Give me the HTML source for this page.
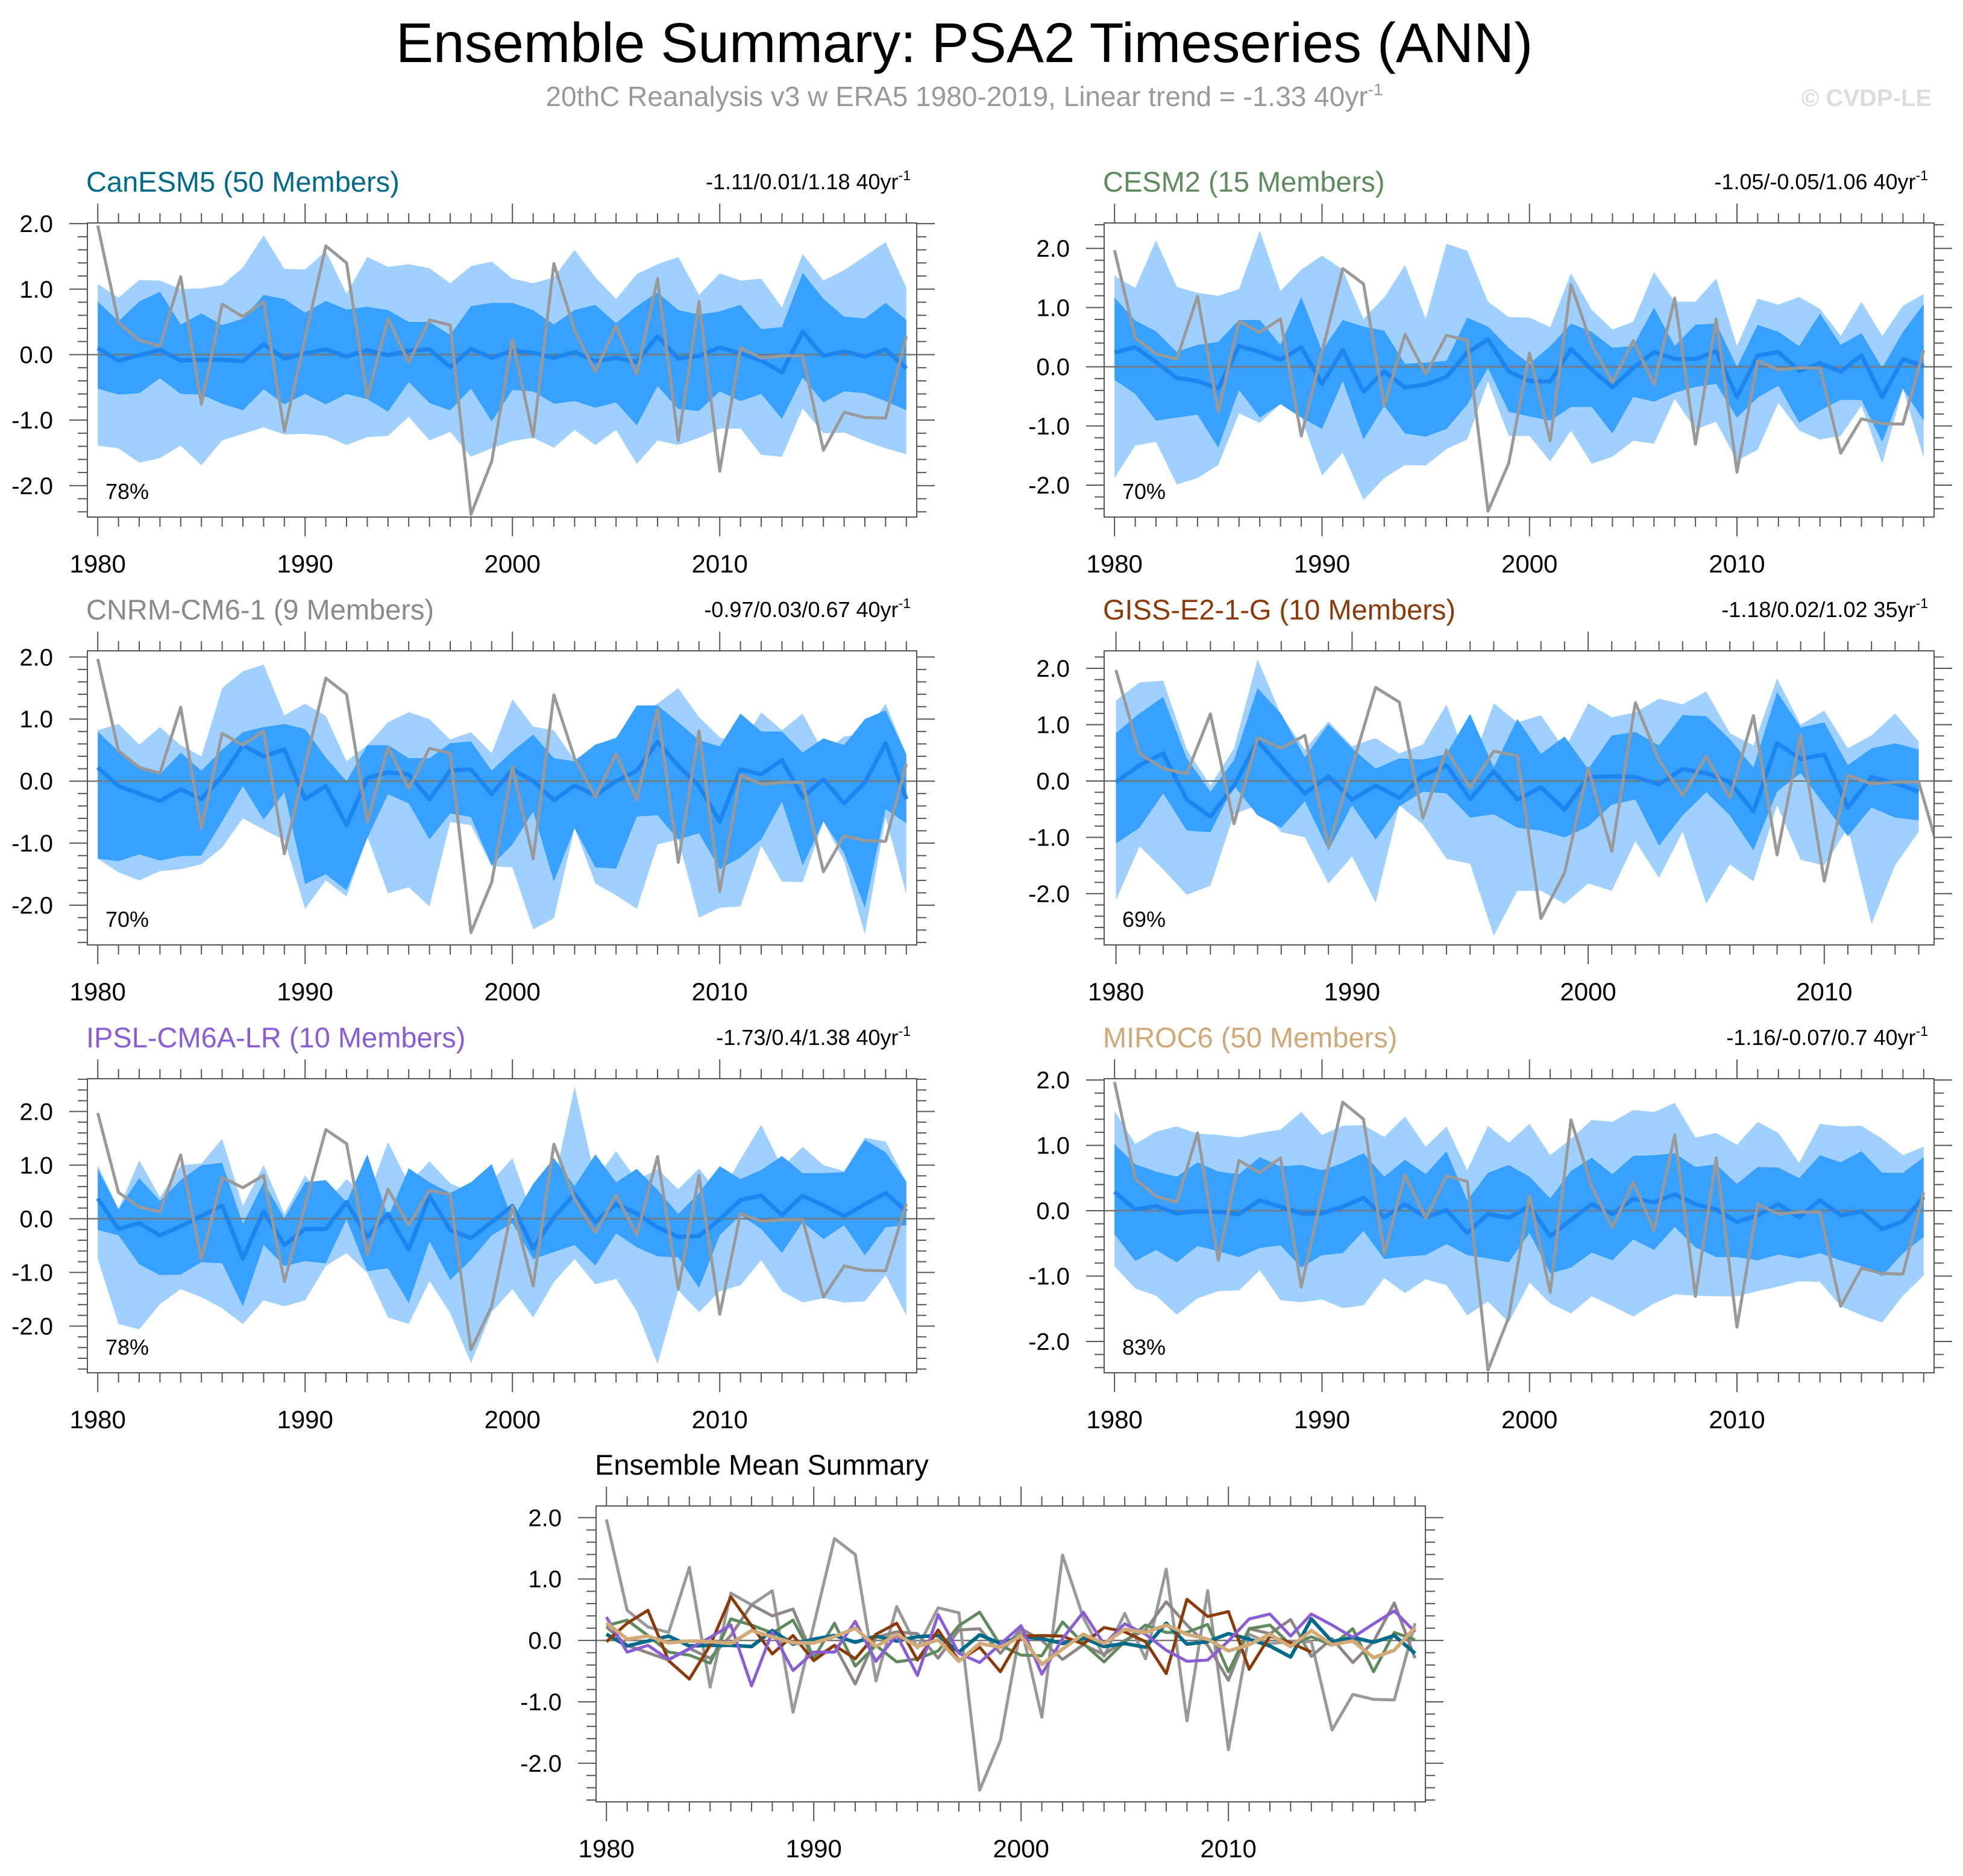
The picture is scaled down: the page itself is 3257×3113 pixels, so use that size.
<!DOCTYPE html>
<html><head><meta charset="utf-8"><title>Ensemble Summary: PSA2 Timeseries (ANN)</title>
<style>
html,body{margin:0;padding:0;background:#fff;}
svg{display:block;font-family:"Liberation Sans",Arial,sans-serif;}
</style></head>
<body>
<svg id="chart" xmlns="http://www.w3.org/2000/svg" width="3257" height="3113" viewBox="0 0 3257 3113">
<text x="1600" y="103" font-size="93" text-anchor="middle" fill="#000">Ensemble Summary: PSA2 Timeseries (ANN)</text>
<text x="1600" y="176" font-size="46" text-anchor="middle" fill="#999">20thC Reanalysis v3 w ERA5 1980-2019, Linear trend = -1.33 40yr<tspan font-size="28" dy="-18">-1</tspan></text>
<text x="3205" y="176" font-size="40" font-weight="bold" text-anchor="end" fill="#dcdcdc">© CVDP-LE</text>
</svg>
<script>
const years=[1980,1981,1982,1983,1984,1985,1986,1987,1988,1989,1990,1991,1992,1993,1994,1995,1996,1997,1998,1999,2000,2001,2002,2003,2004,2005,2006,2007,2008,2009,2010,2011,2012,2013,2014,2015,2016,2017,2018,2019];
const obs=[1.97,0.49,0.22,0.13,1.19,-0.76,0.77,0.58,0.81,-1.17,0.25,1.66,1.40,-0.66,0.55,-0.12,0.53,0.45,-2.44,-1.63,0.23,-1.25,1.39,0.37,-0.26,0.44,-0.30,1.16,-1.31,0.81,-1.78,0.10,-0.05,-0.02,-0.02,-1.46,-0.88,-0.96,-0.97,0.28];

const canMean=[0.10,-0.09,-0.01,0.07,-0.09,-0.08,-0.08,-0.10,0.16,-0.06,0.02,0.08,-0.03,0.07,-0.01,0.06,0.08,-0.19,0.09,-0.05,0.06,0.03,-0.05,0.04,-0.10,-0.05,-0.11,0.28,-0.06,-0.02,0.11,0.02,-0.09,-0.27,0.35,-0.02,0.05,-0.03,0.08,-0.21];
const canOutHi=[1.08,0.87,1.14,1.13,1.0,1.01,1.06,1.33,1.82,1.31,1.30,1.58,0.93,1.49,1.34,1.38,1.32,1.09,1.35,1.42,1.16,1.09,1.18,1.60,1.18,0.85,1.23,1.38,1.49,0.91,1.24,1.13,1.16,0.72,1.54,1.13,1.29,1.50,1.72,1.02];
const canInHi=[0.81,0.51,0.81,0.96,0.46,0.63,0.45,0.55,0.91,0.85,0.64,0.82,0.69,0.73,0.68,0.50,0.50,0.30,0.74,0.79,0.79,0.68,0.46,0.68,0.76,0.48,0.74,0.95,0.68,0.61,0.66,0.76,0.39,0.42,1.25,0.85,0.58,0.55,0.79,0.53];
const canInLo=[-0.52,-0.61,-0.59,-0.36,-0.60,-0.61,-0.75,-0.85,-0.53,-0.76,-0.60,-0.76,-0.60,-0.68,-0.87,-0.42,-0.74,-0.85,-0.52,-1.02,-0.54,-0.56,-0.75,-0.71,-0.81,-0.73,-1.08,-0.48,-0.83,-0.86,-0.56,-0.71,-0.60,-0.98,-0.35,-0.73,-0.56,-0.59,-0.71,-0.85];
const canOutLo=[-1.39,-1.43,-1.65,-1.58,-1.39,-1.69,-1.31,-1.21,-1.11,-1.22,-1.21,-1.24,-1.38,-1.26,-1.24,-0.95,-1.31,-1.18,-1.56,-1.43,-1.32,-1.27,-1.42,-1.15,-1.38,-1.15,-1.67,-1.31,-1.38,-1.27,-1.13,-1.13,-1.53,-1.56,-0.82,-1.20,-1.19,-1.32,-1.43,-1.52];

const cesmMean=[0.24,0.33,0.08,-0.19,-0.24,-0.37,0.35,0.25,0.12,0.33,-0.29,0.28,-0.42,-0.08,-0.35,-0.30,-0.17,0.24,0.46,-0.08,-0.24,-0.25,0.30,-0.05,-0.35,-0.02,0.25,0.13,0.13,0.26,-0.51,0.19,0.25,-0.07,0.06,-0.08,0.19,-0.51,0.13,0.01];
const cesmOutHi=[1.54,1.33,2.14,1.35,1.25,1.20,1.31,2.30,1.28,1.64,1.88,1.64,0.81,1.17,1.72,0.81,2.08,1.96,1.10,0.84,0.83,0.67,1.58,0.96,0.63,0.76,1.60,1.10,1.10,1.49,0.35,1.15,1.05,1.18,0.98,0.52,1.10,0.52,1.03,1.23];
const cesmInHi=[1.17,0.78,0.60,0.25,0.37,0.42,0.79,0.79,0.37,1.18,0.27,0.79,0.68,0.61,0.05,0.07,0.10,0.83,0.68,0.32,0.05,0.35,0.73,0.59,0.32,0.35,1.00,0.35,0.71,0.73,0.00,0.71,0.59,0.35,0.90,0.37,0.57,-0.02,0.59,1.06];
const cesmInLo=[-0.22,-0.46,-0.91,-0.86,-0.81,-1.37,-0.39,-0.86,-0.63,-0.86,-1.05,-0.24,-1.23,-0.66,-1.13,-1.18,-1.05,-0.64,-0.02,-0.76,-0.84,-0.91,-0.68,-0.68,-1.13,-0.51,-0.59,-0.44,-0.34,-0.29,-0.86,-0.52,-0.32,-0.95,-0.74,-0.56,-0.56,-1.27,-0.37,-0.91];
const cesmOutLo=[-1.88,-1.33,-1.27,-1.99,-1.88,-1.66,-0.79,-0.95,-0.63,-0.86,-1.84,-1.45,-2.25,-1.88,-1.66,-1.67,-1.39,-1.23,-0.25,-1.17,-1.17,-1.60,-1.08,-1.64,-1.52,-1.25,-1.30,-0.54,-1.06,-0.93,-1.59,-1.40,-0.61,-1.08,-1.23,-1.17,-0.66,-1.64,-0.37,-1.54];

const cnrmMean=[0.22,-0.08,-0.20,-0.32,-0.13,-0.29,0.08,0.58,0.40,0.51,-0.29,-0.08,-0.71,0.05,0.14,0.11,-0.29,0.17,0.19,-0.21,0.19,0.0,-0.31,-0.07,-0.23,0.0,0.17,0.63,0.25,-0.08,-0.65,0.19,0.11,0.34,-0.26,0.03,-0.36,-0.02,0.61,-0.29];
const cnrmOutHi=[0.82,0.92,0.59,0.87,0.58,0.40,1.50,1.77,1.88,1.06,1.25,1.05,0.32,0.58,0.95,1.11,1.0,0.67,0.79,0.45,1.32,0.88,0.82,0.34,0.58,0.71,1.06,1.25,1.50,1.03,0.71,0.56,1.11,0.82,1.09,0.46,0.72,0.77,1.25,0.43];
const cnrmInHi=[0.80,0.48,0.24,0.11,0.46,0.17,0.51,0.79,0.87,0.92,0.84,0.38,0.0,0.58,0.58,0.37,0.37,0.61,0.64,0.17,0.48,0.75,0.37,0.32,0.59,0.69,1.22,1.22,0.95,0.66,0.56,1.09,0.80,0.80,0.46,0.69,0.58,1.0,1.14,0.43];
const cnrmInLo=[-1.25,-1.29,-1.18,-1.28,-1.21,-1.20,-0.65,-0.08,-0.62,-0.18,-1.66,-1.50,-1.76,-0.92,-0.21,-0.36,-0.94,-0.52,-0.58,-1.36,-1.02,-0.49,-1.62,-0.76,-1.39,-1.41,-0.57,-0.55,-0.94,-0.84,-1.42,-1.23,-0.94,-0.33,-1.36,-0.65,-1.16,-2.04,-0.45,-0.68];
const cnrmOutLo=[-1.25,-1.47,-1.60,-1.45,-1.42,-1.34,-1.07,-0.60,-0.78,-0.95,-2.06,-1.60,-1.86,-0.89,-1.81,-1.71,-2.02,-0.66,-0.71,-1.37,-1.39,-2.39,-2.21,-0.75,-1.65,-1.84,-2.06,-1.02,-0.94,-2.20,-2.04,-2.02,-1.04,-1.62,-1.63,-0.65,-1.29,-2.47,-0.58,-1.83];

const gissMean=[-0.02,0.28,0.49,-0.33,-0.63,-0.08,0.71,0.24,-0.22,0.08,-0.33,-0.08,-0.30,0.10,0.28,-0.32,0.17,-0.33,-0.11,-0.51,0.07,0.08,0.07,-0.06,0.21,0.14,-0.02,-0.54,0.67,0.39,0.47,-0.47,0.07,-0.04,-0.19];
const gissOutHi=[1.43,1.75,1.78,0.56,-0.08,0.58,2.16,1.17,0.56,1.06,0.62,0.76,0.49,0.65,1.36,0.21,1.38,1.04,1.17,0.56,1.38,1.13,1.22,1.46,1.36,1.59,0.85,0.63,1.82,1.00,1.25,0.58,0.81,1.20,0.70];
const gissInHi=[0.85,1.20,1.49,0.40,-0.19,0.37,1.65,1.19,0.42,1.01,0.58,0.22,0.40,0.38,0.48,1.19,0.24,1.10,0.48,0.79,0.21,0.81,0.87,0.63,1.17,1.15,0.74,0.24,1.58,0.95,1.04,0.28,0.58,0.67,0.56];
const gissInLo=[-1.11,-0.83,-0.22,-0.88,-0.91,-0.08,-0.61,-0.83,-0.36,-1.23,-0.43,-1.04,-0.45,-0.19,-0.22,-0.65,-0.59,-0.83,-0.88,-1.0,-0.81,-0.42,-0.33,-1.15,-0.61,-0.20,-0.61,-1.23,-0.19,0.14,-0.42,-0.98,-0.47,-0.65,-0.70];
const gissOutLo=[-2.12,-1.16,-1.57,-2.02,-1.86,-0.59,-0.43,-0.91,-1.0,-1.82,-1.34,-2.16,-0.43,-0.77,-1.38,-1.47,-2.75,-1.95,-1.95,-2.18,-1.82,-1.95,-1.07,-1.72,-0.90,-2.18,-1.48,-1.78,-0.43,-1.40,-1.50,-0.83,-2.54,-1.50,-0.90];

const ipslMean=[0.38,-0.19,-0.08,-0.31,-0.14,0.05,0.25,-0.74,0.14,-0.49,-0.19,-0.19,0.31,-0.34,0.09,-0.57,0.42,-0.21,-0.36,-0.06,0.24,-0.55,0.03,0.46,-0.06,0.27,0.10,-0.16,-0.34,-0.32,-0.01,0.35,0.43,0.07,0.43,0.25,0.05,0.27,0.48,0.14];
const ipslOutHi=[1.0,0.18,1.09,0.40,1.0,1.03,1.49,0.24,1.0,0.09,0.81,0.29,0.74,0.38,1.43,0.66,1.07,0.66,0.50,0.70,1.13,0.03,0.66,2.46,0.74,1.26,0.72,0.93,0.55,0.94,0.44,1.11,1.75,0.96,1.34,1.0,0.89,1.51,1.44,0.69];
const ipslInHi=[0.93,0.18,0.76,0.33,0.72,1.0,1.04,-0.10,0.68,0.01,0.68,0.72,0.31,1.20,0.03,0.94,0.68,0.48,0.68,1.02,-0.01,0.65,1.13,0.61,1.20,0.68,0.93,0.54,0.09,0.48,0.98,0.74,0.91,1.17,0.85,0.85,0.87,1.47,1.24,0.69];
const ipslInLo=[-0.21,-0.31,-0.85,-1.05,-1.04,-0.81,-0.83,-1.63,-0.49,-0.88,-0.79,-0.83,-0.01,-0.98,-0.92,-1.57,-0.42,-1.14,-0.77,-0.31,-0.08,-0.75,-0.62,-0.49,-0.87,-0.27,-0.53,-0.70,-0.72,-1.29,-0.31,0.07,-0.19,-0.64,-0.06,-0.38,-0.12,-0.68,-0.16,-0.12];
const ipslOutLo=[-0.75,-1.96,-2.06,-1.59,-1.31,-1.46,-1.67,-1.96,-1.52,-1.63,-1.52,-0.88,-0.64,-1.01,-1.84,-1.96,-1.16,-1.76,-2.69,-1.74,-1.31,-1.84,-1.18,-0.75,-1.22,-1.12,-1.72,-2.71,-1.33,-1.74,-1.35,-1.24,-0.77,-1.35,-1.56,-1.48,-1.56,-1.54,-1.05,-1.80];

const mirocMean=[0.29,0.02,0.07,-0.04,-0.01,-0.02,-0.05,0.16,0.06,-0.04,-0.04,0.06,0.20,-0.10,0.10,-0.10,0.01,-0.34,-0.05,-0.11,0.07,-0.39,-0.14,0.10,-0.05,0.18,0.13,0.25,0.10,0.02,-0.17,-0.07,0.10,-0.10,0.16,-0.07,-0.01,-0.28,-0.16,0.21];
const mirocOutHi=[1.53,1.02,1.21,1.29,1.18,1.16,1.12,1.19,1.24,1.51,1.16,1.30,1.31,1.13,1.44,0.98,1.29,0.62,1.30,1.04,1.33,0.85,1.10,1.39,1.36,1.54,1.51,1.65,1.12,1.19,1.01,1.36,1.19,0.73,1.33,1.29,1.30,1.10,0.85,0.98];
const mirocInHi=[1.02,0.71,0.60,0.52,0.74,0.60,0.56,0.82,0.68,0.70,0.62,0.73,0.88,0.52,0.78,0.56,0.91,0.16,0.58,0.70,0.52,0.19,0.61,0.81,0.56,0.84,0.85,0.88,0.67,0.71,0.41,0.67,0.66,0.50,0.85,0.74,0.91,0.58,0.58,0.82];
const mirocInLo=[-0.36,-0.77,-0.60,-0.79,-0.54,-0.62,-0.71,-0.57,-0.53,-0.87,-0.68,-0.65,-0.31,-0.74,-0.70,-0.68,-0.51,-0.68,-0.73,-0.79,-0.34,-0.96,-0.87,-0.64,-0.76,-0.44,-0.60,-0.25,-0.56,-0.71,-0.71,-0.76,-0.67,-0.73,-0.65,-0.76,-0.85,-1.0,-0.65,-0.40];
const mirocOutLo=[-0.85,-1.19,-1.30,-1.59,-1.34,-1.23,-1.22,-0.91,-1.37,-1.40,-1.36,-1.49,-1.45,-1.03,-1.26,-1.05,-1.14,-1.60,-1.39,-1.71,-1.10,-1.42,-1.57,-1.31,-1.46,-1.62,-1.42,-1.28,-1.30,-1.31,-1.31,-1.23,-1.16,-1.08,-1.09,-1.46,-1.60,-1.71,-1.30,-0.99];

const xTickLabels=["1980","1990","2000","2010"];
const yTickLabels=["-2.0","-1.0","0.0","1.0","2.0"];

const NS="http://www.w3.org/2000/svg";
const svg=document.getElementById('chart');
function mk(tag,attrs,parent){const e=document.createElementNS(NS,tag);for(const k in attrs)e.setAttribute(k,attrs[k]);(parent||svg).appendChild(e);return e;}

let clipId=0;
function drawPanel(c){
  const g=mk('g',{});
  
  
  const sx=v=>c.x0+(v-c.xmin)/(c.xmax-c.xmin)*(c.x1-c.x0);
  const sy=v=>c.y1-(v-c.ymin)/(c.ymax-c.ymin)*(c.y1-c.y0);
  const cid='clip'+(clipId++);
  const cp=mk('clipPath',{id:cid},g);
  mk('rect',{x:c.x0,y:c.y0,width:c.x1-c.x0,height:c.y1-c.y0},cp);
  const plot=mk('g',{'clip-path':'url(#'+cid+')'},g);
  if(c.bands){
    const n=c.bands[0].length;
    const band=(hi,lo,fill,nm)=>{
      let pts=[];
      for(let i=0;i<n;i++)pts.push(sx(years[i])+','+sy(hi[i]));
      for(let i=n-1;i>=0;i--)pts.push(sx(years[i])+','+sy(lo[i]));
      const p=mk('polygon',{points:pts.join(' '),fill:fill},plot);
      
      
    };
    band(c.bands[0],c.bands[3],'#a0d0ff',c.name+'-outer-spread');
    band(c.bands[1],c.bands[2],'#38a0ff',c.name+'-inner-spread');
  }
  const zl=mk('line',{x1:c.x0,x2:c.x1,y1:sy(0),y2:sy(0),stroke:'#777','stroke-width':2.5},plot);
  
  
  const line=(arr,col,w,nm)=>{
    const pts=arr.map((v,i)=>sx(years[i])+','+sy(v)).join(' ');
    const l=mk('polyline',{points:pts,fill:'none',stroke:col,'stroke-width':w,'stroke-linejoin':'round'},plot);
    
    
  };
  if(c.lines){c.lines.forEach(s=>line(s.data,s.color,s.w,s.nm));}
  const fr=mk('rect',{x:c.x0,y:c.y0,width:c.x1-c.x0,height:c.y1-c.y0,fill:'none',stroke:'#555','stroke-width':2},g);
  
  
  const tg=mk('g',{stroke:'#555','stroke-width':2},g);
  for(let yr=1980;yr<=2019;yr++){
    const x=sx(yr); if(x<c.x0-1||x>c.x1+1)continue;
    const L=(yr%10===0)?32:16;
    mk('line',{x1:x,x2:x,y1:c.y1,y2:c.y1+L},tg);
    mk('line',{x1:x,x2:x,y1:c.y0,y2:c.y0-L},tg);
  }
  xTickLabels.forEach(lbl=>{
    const x=sx(+lbl); if(x>c.x1)return;
    const t=mk('text',{x:x,y:c.y1+92,'font-size':42,'text-anchor':'middle',fill:'#000'},g);
    t.textContent=lbl;
    
    
  });
  for(let k=-15;k<=15;k++){
    const v=k*0.2; if(v<c.ymin-1e-6||v>c.ymax+1e-6)continue;
    const y=sy(v); const L=(k%5===0)?30:16;
    mk('line',{x1:c.x0,x2:c.x0-L,y1:y,y2:y},tg);
    mk('line',{x1:c.x1,x2:c.x1+L,y1:y,y2:y},tg);
  }
  yTickLabels.forEach(lbl=>{
    const v=+lbl; if(v<c.ymin||v>c.ymax+0.01)return;
    const t=mk('text',{x:c.x0-57,y:sy(v)+14,'font-size':40,'text-anchor':'end',fill:'#000'},g);
    t.textContent=lbl;
    
    
  });
  const tt=mk('text',{x:c.x0-2,y:c.y0-52,'font-size':c.titleSize||47,fill:c.titleColor},g);
  tt.textContent=c.title;
  
  
  if(c.trend){
    const tr=mk('text',{x:c.x1-10,y:c.y0-56,'font-size':36,'text-anchor':'end',fill:'#000'},g);
    tr.textContent=c.trend;
    const sup=mk('tspan',{'font-size':23,dy:-15},tr);
    sup.textContent='-1';
    
    
  }
  if(c.pct){
    const pt=mk('text',{x:c.x0+30,y:c.y1-30,'font-size':36,fill:'#000'},g);
    pt.textContent=c.pct;
    
    
  }
}

const L0=145,L1=1521,R0=1832,R1=3209;
const rows=[[370,858],[1080,1568],[1790,2278]];
function mp(name,title,col,trend,pct,x0,x1,row,ymin,ymax,bands,mean,xmax){
  drawPanel({name:name,title:title,titleColor:col,trend:trend,pct:pct,x0:x0,x1:x1,y0:rows[row][0],y1:rows[row][1],
    xmin:1979.5,xmax:xmax||2019.5,ymin:ymin,ymax:ymax,bands:bands,
    lines:[{data:mean,color:'#1e85f0',w:7,nm:name+'-ensemble-mean'},{data:obs,color:'#999',w:5,nm:name+'-observed-line'}]});
}
mp('canesm5','CanESM5 (50 Members)','#006a8a','-1.11/0.01/1.18 40yr','78%',L0,L1,0,-2.48,2.01,[canOutHi,canInHi,canInLo,canOutLo],canMean);
mp('cesm2','CESM2 (15 Members)','#5e8a5e','-1.05/-0.05/1.06 40yr','70%',R0,R1,0,-2.54,2.43,[cesmOutHi,cesmInHi,cesmInLo,cesmOutLo],cesmMean);
mp('cnrm','CNRM-CM6-1 (9 Members)','#8a8a8a','-0.97/0.03/0.67 40yr','70%',L0,L1,1,-2.64,2.10,[cnrmOutHi,cnrmInHi,cnrmInLo,cnrmOutLo],cnrmMean);
mp('giss','GISS-E2-1-G (10 Members)','#8b3a0a','-1.18/0.02/1.02 35yr','69%',R0,R1,1,-2.91,2.31,[gissOutHi,gissInHi,gissInLo,gissOutLo],gissMean,2014.65);
mp('ipsl','IPSL-CM6A-LR (10 Members)','#8a5cd6','-1.73/0.4/1.38 40yr','78%',L0,L1,2,-2.87,2.61,[ipslOutHi,ipslInHi,ipslInLo,ipslOutLo],ipslMean);
mp('miroc6','MIROC6 (50 Members)','#cfa878','-1.16/-0.07/0.7 40yr','83%',R0,R1,2,-2.48,2.02,[mirocOutHi,mirocInHi,mirocInLo,mirocOutLo],mirocMean);

drawPanel({name:'ensemble-mean-summary',title:'Ensemble Mean Summary',titleColor:'#000',titleSize:47,
  x0:989,x1:2365,y0:2499,y1:2990,xmin:1979.5,xmax:2019.5,ymin:-2.63,ymax:2.19,
  lines:[
    {data:obs,color:'#999',w:5,nm:'summary-observed-line'},
    {data:cnrmMean,color:'#8f8585',w:5,nm:'summary-cnrm-line'},
    {data:cesmMean,color:'#5e8a5e',w:5,nm:'summary-cesm2-line'},
    {data:canMean,color:'#006a8a',w:6,nm:'summary-canesm5-line'},
    {data:gissMean,color:'#8b3a0a',w:5,nm:'summary-giss-line'},
    {data:ipslMean,color:'#8a5cd6',w:5,nm:'summary-ipsl-line'},
    {data:mirocMean,color:'#d2aa78',w:6,nm:'summary-miroc6-line'}
  ]});
</script>
</body></html>
